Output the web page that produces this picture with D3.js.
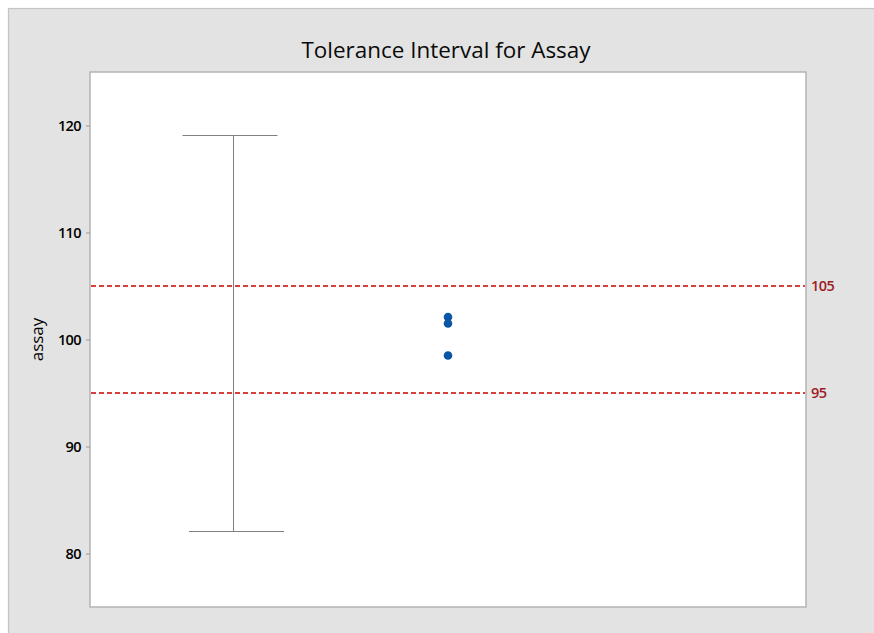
<!DOCTYPE html>
<html>
<head>
<meta charset="utf-8">
<script src="https://cdn.jsdelivr.net/npm/d3@7"></script>
<style>
  html, body { margin: 0; padding: 0; background: #ffffff; }
  svg { display: block; }
  text { font-family: "Open Sans", "Noto Sans", sans-serif; }
</style>
</head>
<body>
<svg id="chart" width="874" height="633"></svg>
<script>
// Chart data
const titleText = "Tolerance Interval for Assay";
const yLabel = "assay";
const yTicks = [80, 90, 100, 110, 120];
const yDomain = [75, 125];
const intervalBounds = [82.1, 119.1];   // lower, upper tolerance bound
const assayValues = [102.1, 101.5, 98.5];
const specLimits = [105, 95];
const groupPos = { interval: 0.2, data: 0.5 };

const svg = d3.select("#chart");
const W = 874, H = 633;
const panel = { x: 8, y: 8 };
const plot = { left: 90, top: 72, right: 806, bottom: 607 };
const crisp = v => Math.round(v) + 0.5;

// Outer panel
svg.append("rect").attr("x", 0).attr("y", 0).attr("width", W).attr("height", H).attr("fill", "#ffffff");
svg.append("rect").attr("x", panel.x + 0.5).attr("y", panel.y + 0.5).attr("width", W - panel.x + 2).attr("height", H - panel.y + 2)
  .attr("fill", "#e3e3e3").attr("stroke", "#c4c4c4").attr("stroke-width", 1.2);

// Plot area
svg.append("rect").attr("x", plot.left).attr("y", plot.top)
  .attr("width", plot.right - plot.left).attr("height", plot.bottom - plot.top)
  .attr("fill", "#ffffff").attr("stroke", "#b4b4b4").attr("stroke-width", 1.5);

const x = d3.scaleLinear().domain([0, 1]).range([plot.left, plot.right]);
const y = d3.scaleLinear().domain(yDomain).range([plot.bottom, plot.top]);

// Title
svg.append("text").attr("x", (plot.left + plot.right) / 2 - 2).attr("y", 58)
  .attr("text-anchor", "middle").attr("font-size", 22).attr("font-weight", 500).attr("fill", "#0a0a0a")
  .attr("textLength", 289).attr("lengthAdjust", "spacingAndGlyphs")
  .text(titleText);

// Y axis
const yAxis = d3.axisLeft(y).tickValues(yTicks).tickSize(4).tickPadding(5).tickFormat(d3.format("d"));
const gy = svg.append("g").attr("transform", `translate(${plot.left},0)`).call(yAxis);
gy.select(".domain").remove();
gy.selectAll(".tick line").attr("stroke", "#9a9a9a");
gy.selectAll(".tick text").attr("font-size", 14.5).attr("fill", "#000").attr("font-weight", 600)
  .attr("font-family", "'Open Sans', sans-serif").attr("letter-spacing", "-0.6");

svg.append("text")
  .attr("transform", `translate(43,${y(100)}) rotate(-90)`)
  .attr("text-anchor", "middle").attr("font-size", 17).attr("fill", "#000")
  .text(yLabel);

// Specification limits
specLimits.forEach(v => {
  svg.append("line").attr("x1", plot.left + 1).attr("x2", plot.right - 1)
    .attr("y1", y(v)).attr("y2", y(v))
    .attr("stroke", "#cc0000").attr("stroke-width", 1.3).attr("stroke-dasharray", "5,3");
  svg.append("text").attr("x", plot.right + 5).attr("y", y(v)).attr("dy", "0.35em")
    .attr("font-size", 14.5).attr("font-weight", 600).attr("fill", "#9c1c24").attr("letter-spacing", "-0.6")
    .text(v);
});

// Tolerance interval
const cx = crisp(x(groupPos.interval));
const halfW = 47.5;
const stroke = "#808080";
svg.append("line").attr("x1", cx).attr("x2", cx)
  .attr("y1", crisp(y(intervalBounds[1]))).attr("y2", crisp(y(intervalBounds[0])))
  .attr("stroke", stroke).attr("stroke-width", 1);
svg.append("line").attr("x1", cx - halfW - 3.5).attr("x2", cx + halfW - 3.5)
  .attr("y1", crisp(y(intervalBounds[1]))).attr("y2", crisp(y(intervalBounds[1])))
  .attr("stroke", stroke).attr("stroke-width", 1);
svg.append("line").attr("x1", cx - halfW + 3).attr("x2", cx + halfW + 3)
  .attr("y1", crisp(y(intervalBounds[0]))).attr("y2", crisp(y(intervalBounds[0])))
  .attr("stroke", stroke).attr("stroke-width", 1);

// Observations
svg.selectAll("circle.obs").data(assayValues).join("circle")
  .attr("class", "obs")
  .attr("cx", x(groupPos.data)).attr("cy", d => y(d)).attr("r", 4.3)
  .attr("fill", "#0a56a5");
</script>
</body>
</html>
